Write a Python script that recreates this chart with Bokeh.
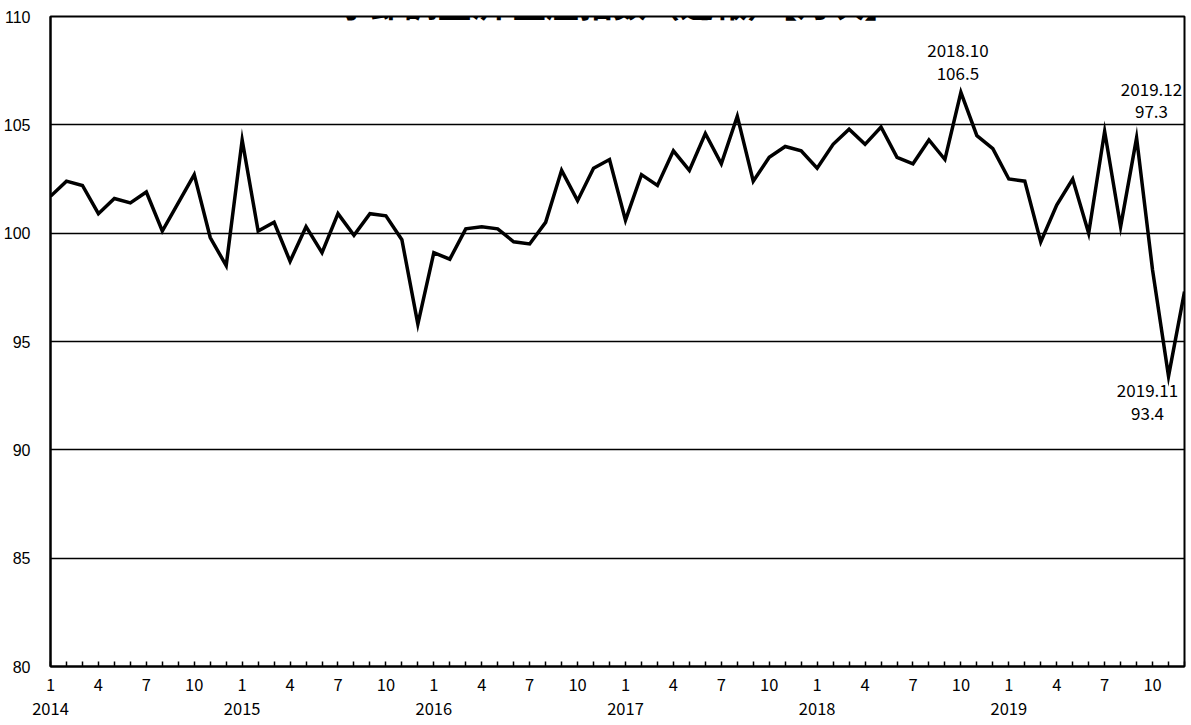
from bokeh.plotting import figure
from bokeh.models import Range1d, FixedTicker, LinearAxis, Label
from bokeh.embed import file_html
from bokeh.resources import INLINE

# ---------------- data ----------------
title_text = "季節調整済 生産指数（速報）【月次】"
years = [2014, 2015, 2016, 2017, 2018, 2019]
months = [1, 2, 3, 4, 5, 6, 7, 8, 9, 10, 11, 12]
labelled_months = [1, 4, 7, 10]
y_ticks = [80, 85, 90, 95, 100, 105, 110]

index_2014 = [101.7, 102.4, 102.2, 100.9, 101.6, 101.4, 101.9, 100.1, 101.4, 102.7, 99.8, 98.5]
index_2015 = [104.3, 100.1, 100.5, 98.7, 100.3, 99.1, 100.9, 99.9, 100.9, 100.8, 99.7, 95.8]
index_2016 = [99.1, 98.8, 100.2, 100.3, 100.2, 99.6, 99.5, 100.5, 102.9, 101.5, 103.0, 103.4]
index_2017 = [100.6, 102.7, 102.2, 103.8, 102.9, 104.6, 103.2, 105.4, 102.4, 103.5, 104.0, 103.8]
index_2018 = [103.0, 104.1, 104.8, 104.1, 104.9, 103.5, 103.2, 104.3, 103.4, 106.5, 104.5, 103.9]
index_2019 = [102.5, 102.4, 99.6, 101.3, 102.5, 100.0, 104.7, 100.3, 104.4, 98.3, 93.4, 97.3]

# annotated points: (year, month)
annotated = [(2018, 10), (2019, 12), (2019, 11)]

# ---------------- build ----------------
values = index_2014 + index_2015 + index_2016 + index_2017 + index_2018 + index_2019
year_of = [y for y in years for _ in months]
month_of = [m for _ in years for m in months]
x = list(range(len(values)))

JP = "Noto Sans CJK JP"

p = figure(frame_width=1134, frame_height=650,
           x_range=Range1d(x[0], x[-1]), y_range=Range1d(y_ticks[0], y_ticks[-1]),
           x_axis_type=None, output_backend="svg", toolbar_location=None,
           min_border_left=41, min_border_right=5, min_border_top=24,
           min_border_bottom=58, margin=(-8, 0, -8, 0))
p.background_fill_color = "white"
p.border_fill_color = "white"
p.outline_line_color = "black"
p.outline_line_width = 2
p.outline_line_alpha = 1.0

# y axis
yax = p.yaxis[0]
yax.ticker = FixedTicker(ticks=y_ticks)
yax.major_tick_line_color = None
yax.minor_tick_line_color = None
yax.axis_line_color = "black"
yax.axis_line_width = 2
yax.major_label_text_font = "Liberation Sans"
yax.major_label_text_font_size = "16px"
yax.major_label_text_color = "black"
yax.major_label_standoff = 14

p.ygrid.ticker = FixedTicker(ticks=y_ticks)
p.ygrid.grid_line_color = "black"
p.ygrid.grid_line_width = 1.5
p.ygrid.grid_line_alpha = 1.0

# month axis
month_overrides = {i: (str(m) if m in labelled_months else "") for i, m in zip(x, month_of)}
xax = LinearAxis(ticker=FixedTicker(ticks=x), major_label_overrides=month_overrides)
xax.major_tick_in = 5
xax.major_tick_out = 0
xax.major_tick_line_color = "black"
xax.major_tick_line_width = 1.5
xax.minor_tick_line_color = None
xax.axis_line_color = "black"
xax.axis_line_width = 2
xax.major_label_text_font = JP
xax.major_label_text_font_size = "16.5px"
xax.major_label_text_color = "black"
xax.major_label_standoff = 12
p.add_layout(xax, "below")

# year axis
jan_idx = [i for i, m in zip(x, month_of) if m == 1]
year_overrides = {i: str(year_of[i]) for i in jan_idx}
yrax = LinearAxis(ticker=FixedTicker(ticks=jan_idx), major_label_overrides=year_overrides)
yrax.major_tick_line_color = None
yrax.minor_tick_line_color = None
yrax.axis_line_color = None
yrax.major_label_text_font = JP
yrax.major_label_text_font_size = "16.5px"
yrax.major_label_text_color = "black"
yrax.major_label_standoff = 3
p.add_layout(yrax, "below")

# data line
p.line(x, values, line_color="black", line_width=3.5, line_join="miter")

# title (mostly above the page edge, as in the reference)
p.add_layout(Label(x=(x[0] + x[-1]) / 2, y=y_ticks[-1], y_offset=14, text=title_text,
                   text_align="center", text_baseline="middle",
                   text_font=JP, text_font_style="bold", text_font_size="33.5px",
                   text_color="black"))

# annotations: (dx, dy_date, dy_value) screen offsets per annotated point
offsets = {(2018, 10): (-3, 42, 18.5),
           (2019, 12): (-33, 202.5, 180),
           (2019, 11): (-21, -14.3, -37.3)}
for (yy, mm) in annotated:
    i = [k for k in x if year_of[k] == yy and month_of[k] == mm][0]
    dx, dyd, dyv = offsets[(yy, mm)]
    for txt, dy in ((f"{yy}.{mm}", dyd), (f"{values[i]:.1f}", dyv)):
        p.add_layout(Label(x=x[i], y=values[i], x_offset=dx, y_offset=dy, text=txt,
                           text_align="center", text_baseline="middle",
                           text_font=JP, text_font_size="17px", text_color="black"))

open("out.html", "w").write(file_html(p, INLINE))
